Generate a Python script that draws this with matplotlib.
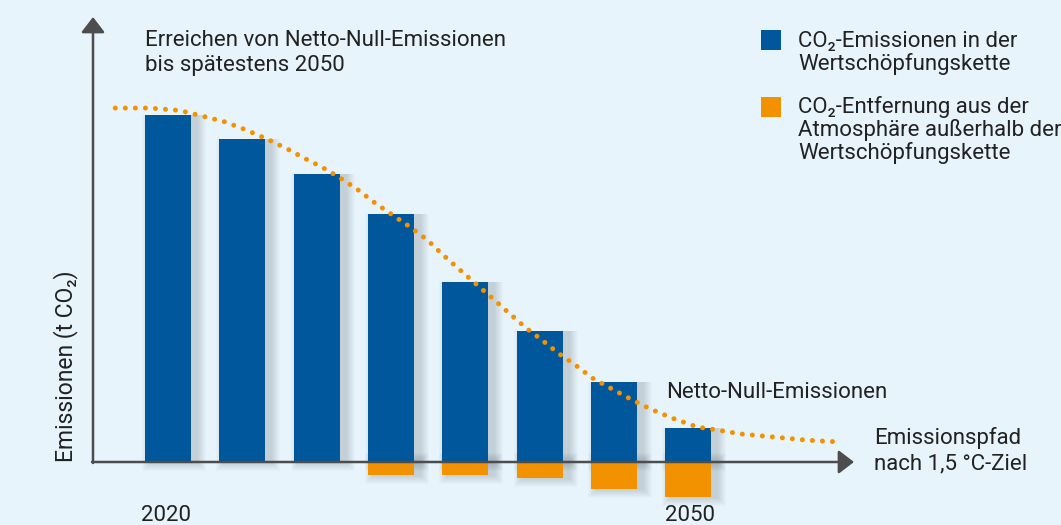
import matplotlib.pyplot as plt
import numpy as np

# bar values (relative emission units), index 0 = 2020, index 7 = 2050
bar_pos = np.arange(8)
emissions = [100.0, 93.1, 83.0, 71.6, 51.9, 37.8, 23.1, 9.8]
removal = [0.0, 0.0, 0.0, -3.7, -3.7, -4.6, -7.8, -10.1]

# 1.5 °C pathway
path_x = [-0.71, -0.24, 0.16, 0.46, 0.77, 1.05, 1.33, 1.58, 1.83, 2.07, 2.30,
          2.54, 2.77, 3.02, 3.26, 3.49, 3.69, 3.90, 4.13, 4.36, 4.59, 4.82,
          5.03, 5.25, 5.48, 5.71, 5.98, 6.22, 6.49, 6.78, 7.12, 7.40, 7.70,
          8.00, 8.30, 8.59, 9.02]
path_y = [102.0, 102.0, 101.3, 99.7, 98.0, 95.7, 93.1, 90.5, 87.6, 85.0, 82.1,
          78.7, 74.9, 71.2, 67.7, 64.0, 59.9, 55.9, 51.6, 47.3, 42.9, 38.6,
          35.2, 31.4, 28.0, 24.2, 21.0, 18.2, 15.3, 12.7, 10.1, 9.2, 8.1,
          7.5, 6.9, 6.3, 5.8]

BG = '#e8f4fc'
BLUE = '#00579b'
ORANGE = '#f39200'
AXIS = '#4d4d4d'
TXT = '#222222'

plt.rcParams['font.family'] = ['Roboto', 'DejaVu Sans']

fig = plt.figure(figsize=(10.61, 5.25), dpi=100, facecolor=BG)
ax = fig.add_axes([0, 0, 1, 1])
ax.set_facecolor(BG)

# pixel -> data helpers (axes fill the whole figure)
X0, DX = 168, 74.3
Y0, DY = 462, 3.47


def px(x, y):
    return (x - X0) / DX, (Y0 - y) / DY


ax.set_xlim(px(0, 0)[0], px(1061, 0)[0])
ax.set_ylim(px(0, 525)[1], px(0, 0)[1])
ax.axis('off')

w = 46 / DX

# soft shadows to the right of the bars
off = 6 / DX
neg = np.array(removal)
mask = neg < 0
for r in range(1, 10):
    rr = r / DX
    ry = r / DY
    ax.bar(bar_pos + off, np.array(emissions) + ry, width=w + 2 * rr,
           bottom=-ry, color='#1e2a36', alpha=0.02, linewidth=0, zorder=1)
    ax.bar(bar_pos[mask] + off, neg[mask] - 2 * ry, width=w + 2 * rr,
           bottom=ry, color='#1e2a36', alpha=0.02, linewidth=0, zorder=1)

ax.bar(bar_pos, emissions, width=w, color=BLUE, linewidth=0, zorder=3)
ax.bar(bar_pos, removal, width=w, color=ORANGE, linewidth=0, zorder=3)

# dotted pathway
ax.plot(path_x, path_y, color=ORANGE, lw=3.6, ls=(0, (0.01, 2.0)),
        dash_capstyle='round', zorder=4)

# axes with arrows
arrow = dict(arrowstyle='-|>,head_length=0.47,head_width=0.36', lw=1.8,
             color=AXIS, mutation_scale=20, shrinkA=0, shrinkB=0)
ax.annotate('', xy=px(854, 462), xytext=px(92, 462), arrowprops=arrow, zorder=5)
ax.annotate('', xy=px(93, 17), xytext=px(93, 463), arrowprops=arrow, zorder=5)

# texts
fs = 16
for txt, yb in [('Erreichen von Netto-Null-Emissionen', 46),
                ('bis spätestens 2050', 71)]:
    ax.text(*px(145, yb), txt, fontsize=fs, color=TXT, va='baseline', ha='left')

ax.text(*px(666, 398), 'Netto-Null-Emissionen', fontsize=fs, color=TXT,
        va='baseline', ha='left')
for txt, yb in [('Emissionspfad', 444), ('nach 1,5 °C-Ziel', 469)]:
    ax.text(*px(874, yb), txt, fontsize=fs, color=TXT, va='baseline', ha='left')

ax.text(*px(141, 521), '2020', fontsize=fs, color=TXT, va='baseline', ha='left')
ax.text(*px(665, 521), '2050', fontsize=fs, color=TXT, va='baseline', ha='left')

ax.text(*px(66, 462), 'Emissionen (t CO₂)', fontsize=16.5, color=TXT,
        rotation=90, ha='center', va='bottom')

# legend
ax.bar(*px(771, 0)[:1], 20 / DY, width=21 / DX, bottom=px(0, 50)[1],
       color=BLUE, linewidth=0)
ax.bar(*px(771, 0)[:1], 20 / DY, width=21 / DX, bottom=px(0, 117)[1],
       color=ORANGE, linewidth=0)
for txt, yb in [('CO₂-Emissionen in der', 47), ('Wertschöpfungskette', 70),
                ('CO₂-Entfernung aus der', 113),
                ('Atmosphäre außerhalb der', 136),
                ('Wertschöpfungskette', 159)]:
    ax.text(*px(798, yb), txt, fontsize=fs, color=TXT, va='baseline', ha='left')

fig.savefig('out.png', dpi=100, facecolor=BG)
